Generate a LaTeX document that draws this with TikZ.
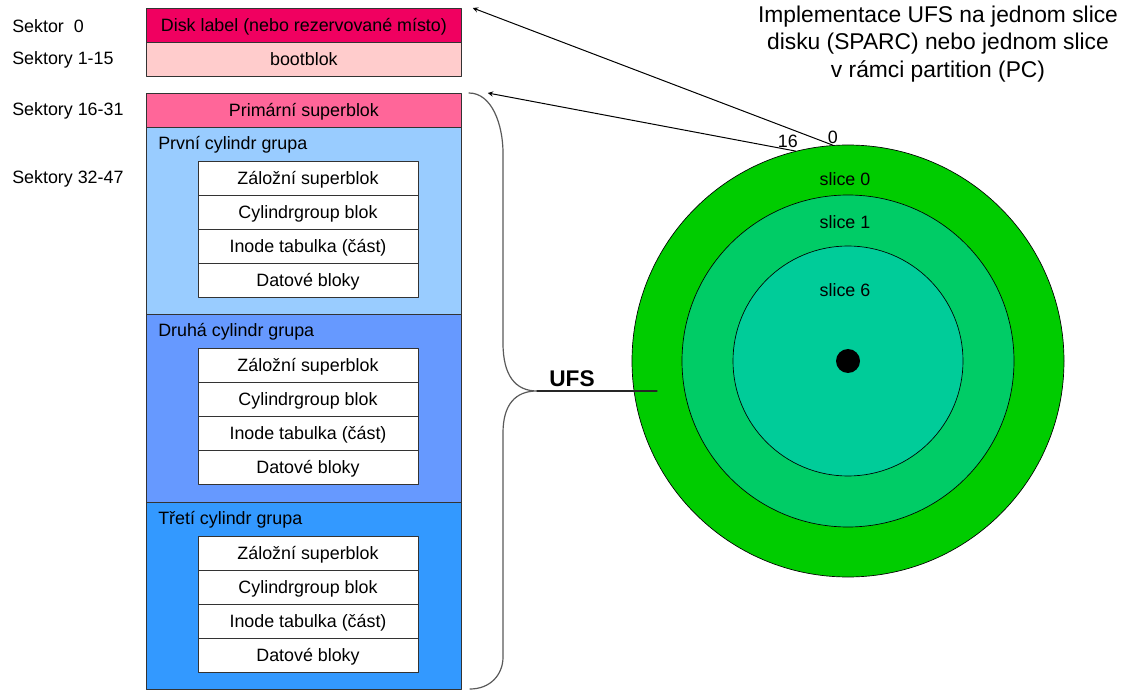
\documentclass[tikz,border=0pt]{standalone}
\usepackage{fontspec}
\setmainfont{Liberation Sans}
\usetikzlibrary{calc}
\definecolor{labelred}{HTML}{F00060}
\definecolor{bootpink}{HTML}{FFCCCC}
\definecolor{superpink}{HTML}{FF6699}
\definecolor{grpA}{HTML}{99CCFF}
\definecolor{grpB}{HTML}{6699FF}
\definecolor{grpC}{HTML}{3399FF}
\definecolor{disk0}{HTML}{00CC00}
\definecolor{disk1}{HTML}{00CC66}
\definecolor{disk6}{HTML}{00CC99}
\begin{document}
\begin{tikzpicture}[x=0.75pt, y=-0.75pt, line join=round, line cap=round, >=stealth,
	font=\fontsize{13.4}{16}\selectfont,
	blok/.style={draw=black!80, line width=0.6pt, minimum width=236.25pt, minimum height=25.5pt, inner sep=0pt, anchor=north west, text depth=0.5pt},
	grupa/.style={draw=black!80, line width=0.6pt, minimum width=236.25pt, minimum height=140.6pt, inner sep=0pt, anchor=north west},
	vnitrni/.style={draw=black!80, fill=white, line width=0.6pt, minimum width=165pt, minimum height=25.5pt, inner sep=0pt, text depth=0.5pt},
	kruh/.style={circle, draw=black, line width=0.5pt, inner sep=0pt}]
			\useasboundingbox (0,0) rectangle (1143,695);
			% sektory
			\foreach \sy/\stxt/\sid in {26/Sektor\ \ 0/a, 60/Sektory 1-15/b, 111/Sektory 16-31/c, 179/Sektory 32-47/d}
			\node[anchor=west, inner sep=0pt] (sek\sid) at (12,\sy) {\stxt};
			% bloky
			\node[blok, fill=labelred] (dlab) at (146,8) {Disk label (nebo rezervované místo)};
			\node[blok, fill=bootpink] (boot) at (146,42) {bootblok};
			\node[blok, fill=superpink] (super) at (146,93) {Primární superblok};
			\foreach \gy/\gname/\gfill/\gid in {127/První/grpA/1, 314.5/Druhá/grpB/2, 502/Třetí/grpC/3} {
				\node[grupa, fill=\gfill] (g\gid) at (146,\gy) {};
				\node[anchor=west, inner sep=0pt] (g\gid t) at (158,\gy+17.5) {\gname{} cylindr grupa};
				\foreach \r/\rtxt in {0/Záložní superblok, 1/Cylindrgroup blok, 2/Inode tabulka (část), 3/Datové bloky}
				\node[vnitrni] (g\gid r\r) at (308,\gy+51+34*\r) {\rtxt};
			}
			% disk
			\node[kruh, fill=disk0, minimum size=324pt] (s0) at (848,361) {};
			\node[kruh, fill=disk1, minimum size=249pt] (s1) at (848,361) {};
			\node[kruh, fill=disk6, minimum size=172.5pt] (s6) at (848,361) {};
			\node[circle, fill=black, minimum size=18pt, inner sep=0pt] (stred) at (848,361) {};
			\foreach \ly/\lt in {179/0, 222/1, 290/6}
			\node (ls\lt) at (845,\ly) {slice \lt};
			% sipky
			\path
			($(dlab.north east)+(11,0)$) coordinate (A)
			($(super.north east)+(26,0)$) coordinate (B)
			(537,391) coordinate (H)
			(657,391) coordinate (U);
			\draw[->, line width=0.75pt] (s0.94) node[above, inner sep=1pt] (n0) {0} -- (A);
			\draw[->, line width=0.75pt] (s0.104.5) node[above left, inner sep=0pt, xshift=2pt, yshift=2pt] (n16) {16} -- (B);
			% zavorka
			\draw[black!65, line width=0.9pt] (469,93) .. controls (492,93) and (503,125) .. (503,153) -- (503,343)
			.. controls (503,375) and (515,391) .. (H) .. controls (515,391) and (503,405) .. (503,433)
			-- (503,657) .. controls (503,675) and (490,689) .. (470,689);
			\draw[black!85, line width=0.9pt] (H) -- (U);
			\node[font=\bfseries\fontsize{17}{20}\selectfont] (ufs) at (572,379) {UFS};
			\node[align=center, font=\fontsize{17.1}{20.6}\selectfont, text=black] (nadpis) at (938,44)
			{Implementace UFS na jednom slice\\disku (SPARC) nebo jednom slice\\v rámci partition (PC)};
		\end{tikzpicture}
\end{document}
